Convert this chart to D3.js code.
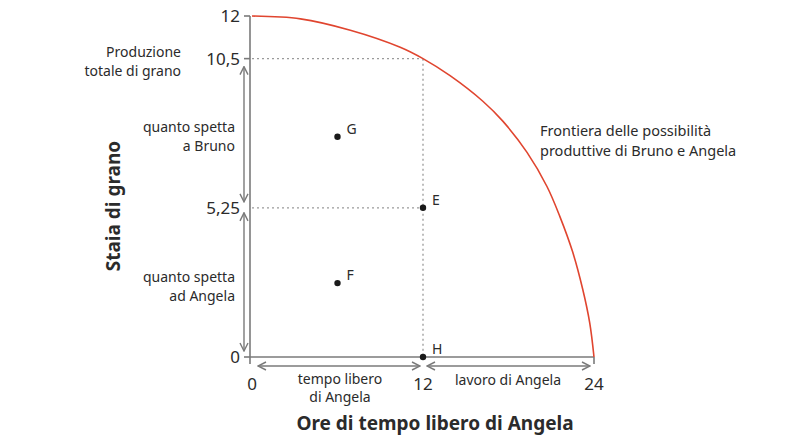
<!doctype html>
<html>
<head>
<meta charset="utf-8">
<script src="https://d3js.org/d3.v7.min.js"></script>
<style>
  body { margin: 0; background: #fff; }
  text { font-family: "Noto Sans", sans-serif; fill: #2b2b2b; }
</style>
</head>
<body>
<svg width="810" height="438"></svg>
<script>
// frontier (hours of free time, bushels of grain)
var frontierX = [0, 3.4, 6.9, 10.4, 12, 13.9, 16.2, 17.6, 19.3, 20.7, 21.6, 22.5, 23.2, 23.7, 24];
var frontierY = [12, 11.9, 11.5, 10.9, 10.5, 9.9, 9.0, 8.3, 7.2, 6.0, 4.95, 3.7, 2.4, 1.2, 0];

var pointNames = ["G", "F", "E", "H"];
var pointX = [6, 6, 12, 12];
var pointY = [7.75, 2.6, 5.25, 0];

var yTicks = [0, 5.25, 10.5, 12];
var yTickLabels = ["0", "5,25", "10,5", "12"];
var xTicks = [0, 12, 24];
var xTickLabels = ["0", "12", "24"];

var svg = d3.select("svg");
var x = d3.scaleLinear().domain([0, 24]).range([252, 594]);
var y = d3.scaleLinear().domain([0, 12]).range([357, 16]);

var grey = "#7a7a7a";

// arrow markers
var defs = svg.append("defs");
defs.append("marker")
  .attr("id", "chev")
  .attr("viewBox", "0 0 10 10")
  .attr("refX", 9).attr("refY", 5)
  .attr("markerWidth", 10).attr("markerHeight", 10)
  .attr("markerUnits", "userSpaceOnUse")
  .attr("orient", "auto-start-reverse")
  .append("path")
  .attr("d", "M1,1 L9,5 L1,9")
  .style("fill", "none").style("stroke", grey).style("stroke-width", 1.4);

// dotted guides
var guides = svg.append("g")
  .style("stroke", "#9a9a9a").style("stroke-width", 1.3)
  .style("stroke-dasharray", "2,3");
guides.append("line")
  .attr("x1", x(0)).attr("x2", x(12)).attr("y1", y(10.5)).attr("y2", y(10.5));
guides.append("line")
  .attr("x1", x(0)).attr("x2", x(12)).attr("y1", y(5.25)).attr("y2", y(5.25));
guides.append("line")
  .attr("x1", x(12)).attr("x2", x(12)).attr("y1", y(10.5)).attr("y2", y(0));

// axes
var axis = svg.append("g").style("stroke", grey).style("stroke-width", 1.6);
axis.append("line")
  .attr("x1", x(0) - 2).attr("x2", x(0) - 2).attr("y1", y(12)).attr("y2", y(0) + 7);
axis.append("line")
  .attr("x1", x(0) - 2).attr("x2", x(24)).attr("y1", y(0)).attr("y2", y(0));
axis.append("line")
  .attr("x1", x(24)).attr("x2", x(24)).attr("y1", y(0)).attr("y2", y(0) + 7);
axis.selectAll(".yt")
  .data([0, 10.5, 12])
  .enter().append("line")
  .attr("x1", x(0) - 8).attr("x2", x(0) - 2)
  .attr("y1", function(d) { return y(d); })
  .attr("y2", function(d) { return y(d); });

svg.append("g").selectAll("text")
  .data(yTicks)
  .enter().append("text")
  .attr("x", x(0) - 12)
  .attr("y", function(d) { return y(d); })
  .attr("dy", "0.36em")
  .attr("text-anchor", "end")
  .style("font-size", "17px")
  .text(function(d, i) { return yTickLabels[i]; });

svg.append("g").selectAll("text")
  .data(xTicks)
  .enter().append("text")
  .attr("x", function(d) { return x(d); })
  .attr("y", 390)
  .attr("text-anchor", "middle")
  .style("font-size", "17px")
  .text(function(d, i) { return xTickLabels[i]; });

// frontier
var line = d3.line()
  .x(function(d) { return x(d[0]); })
  .y(function(d) { return y(d[1]); })
  .curve(d3.curveCatmullRom.alpha(0.5));
svg.append("path")
  .datum(d3.zip(frontierX, frontierY))
  .attr("d", line)
  .style("fill", "none")
  .style("stroke", "#e0452f")
  .style("stroke-width", 1.6);

// double arrows
var arrows = svg.append("g")
  .style("stroke", grey).style("stroke-width", 1.4);
arrows.append("line")
  .attr("x1", x(0) - 8).attr("x2", x(0) - 8)
  .attr("y1", y(10.5) + 8).attr("y2", y(5.25) - 6);
arrows.append("line")
  .attr("x1", x(0) - 8).attr("x2", x(0) - 8)
  .attr("y1", y(5.25) + 5).attr("y2", y(0) - 6);
arrows.append("line")
  .attr("x1", x(0) + 6).attr("x2", x(12) - 3)
  .attr("y1", y(0) + 9).attr("y2", y(0) + 9);
arrows.append("line")
  .attr("x1", x(12) + 4).attr("x2", x(24) - 4)
  .attr("y1", y(0) + 9).attr("y2", y(0) + 9);
arrows.selectAll("line")
  .attr("marker-start", "url(#chev)")
  .attr("marker-end", "url(#chev)");

// points
svg.append("g").selectAll("circle")
  .data(pointNames)
  .enter().append("circle")
  .attr("cx", function(d, i) { return x(pointX[i]); })
  .attr("cy", function(d, i) { return y(pointY[i]); })
  .attr("r", 3.2)
  .style("fill", "#1a1a1a");
svg.append("g").selectAll("text")
  .data(pointNames)
  .enter().append("text")
  .attr("x", function(d, i) { return x(pointX[i]) + 9; })
  .attr("y", function(d, i) { return y(pointY[i]) - 3; })
  .style("font-size", "14px")
  .text(function(d) { return d; });

// annotations
function multi(lines, px, py, anchor, size, gap) {
  var t = svg.append("text")
    .attr("text-anchor", anchor)
    .style("font-size", size + "px");
  lines.forEach(function(s, i) {
    t.append("tspan").attr("x", px).attr("y", py + i * gap).text(s);
  });
}
multi(["Produzione", "totale di grano"], 181, 57, "end", 14, 19);
multi(["quanto spetta", "a Bruno"], 235, 132, "end", 14, 19);
multi(["quanto spetta", "ad Angela"], 235, 282, "end", 14, 19);
multi(["tempo libero", "di Angela"], 340, 384, "middle", 14, 18);
multi(["lavoro di Angela"], 508, 385, "middle", 14, 17);
multi(["Frontiera delle possibilità", "produttive di Bruno e Angela"], 540, 136, "start", 14.5, 20);

svg.append("text")
  .attr("transform", "translate(120,206) rotate(-90)")
  .attr("text-anchor", "middle")
  .style("font-size", "19px")
  .style("font-weight", "bold")
  .text("Staia di grano");

svg.append("text")
  .attr("x", 435).attr("y", 430)
  .attr("text-anchor", "middle")
  .style("font-size", "19px")
  .style("font-weight", "bold")
  .text("Ore di tempo libero di Angela");
</script>
</body>
</html>
